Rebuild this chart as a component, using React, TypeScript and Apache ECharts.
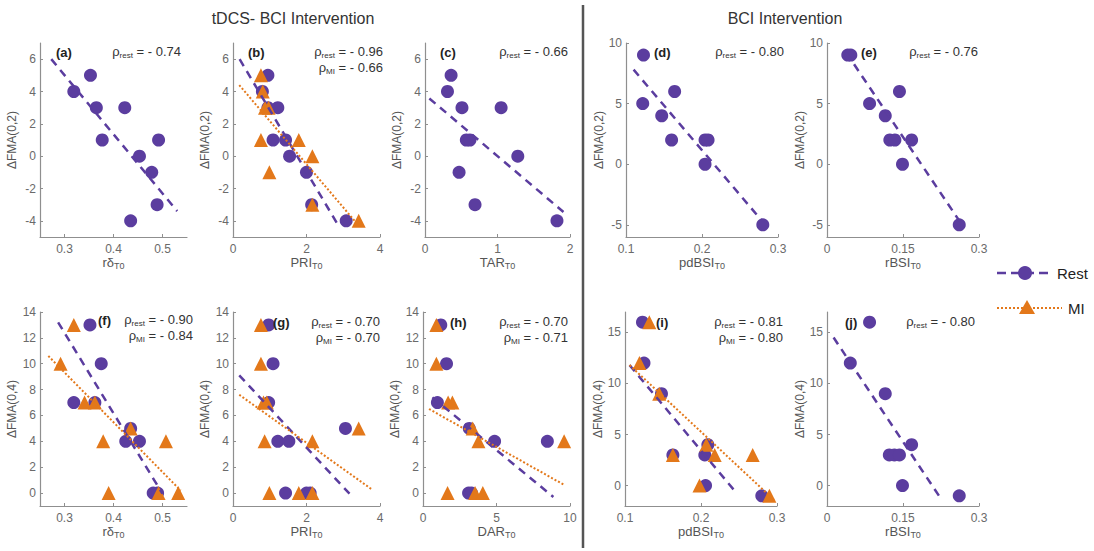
import React, { useEffect, useRef } from 'react';
import * as echarts from 'echarts';

// ---------- data ----------
const restA = [[0.319, 4], [0.353, 5], [0.365, 3], [0.377, 1], [0.423, 3], [0.492, 1], [0.453, 0], [0.478, -1], [0.489, -3], [0.435, -4]];
const fitRestA = [[0.273, 6.0], [0.53, -3.4]];

const restB = [[0.8, 4], [0.95, 3], [0.95, 5], [1.22, 3], [1.09, 1], [1.43, 1], [1.54, 0], [2.0, -1], [2.14, -3], [3.08, -4]];
const miB = [[0.76, 5], [0.81, 4], [0.87, 3], [0.97, 3], [0.76, 1], [1.79, 1], [2.16, 0], [0.99, -1], [2.16, -3], [3.42, -4]];
const fitRestB = [[0.18, 6.0], [2.87, -4.3]];
const fitMiB = [[0.17, 4.4], [3.31, -4.0]];

const restC = [[0.36, 5], [0.31, 4], [0.51, 3], [1.05, 3], [0.57, 1], [0.62, 1], [1.28, 0], [0.47, -1], [0.69, -3], [1.82, -4]];
const fitRestC = [[0.06, 3.57], [1.91, -3.45]];

const restD = [[0.123, 9], [0.122, 5], [0.164, 6], [0.147, 4], [0.16, 2], [0.204, 2], [0.208, 2], [0.204, 0], [0.28, -5]];
const fitRestD = [[0.11, 7.8], [0.278, -4.6]];

const restE = [[0.041, 9], [0.047, 9], [0.084, 5], [0.143, 6], [0.115, 4], [0.124, 2], [0.134, 2], [0.167, 2], [0.149, 0], [0.261, -5]];
const fitRestE = [[0.038, 9.2], [0.265, -4.9]];

const restF = [[0.352, 13], [0.375, 10], [0.319, 7], [0.362, 7], [0.425, 4], [0.453, 4], [0.481, 0], [0.49, 0], [0.435, 5]];
const miF = [[0.319, 13], [0.292, 10], [0.341, 7], [0.362, 7], [0.435, 5], [0.379, 4], [0.507, 4], [0.39, 0], [0.492, 0], [0.532, 0]];
const fitRestF = [[0.287, 13.2], [0.5, -0.05]];
const fitMiF = [[0.267, 10.6], [0.537, 0.2]];

const restG = [[0.97, 13], [1.09, 10], [0.97, 7], [1.22, 4], [1.52, 4], [3.06, 5], [1.43, 0], [2.0, 0], [2.1, 0]];
const miG = [[0.76, 13], [0.76, 10], [0.83, 7], [0.92, 7], [0.86, 4], [2.16, 4], [3.42, 5], [0.99, 0], [1.79, 0], [2.16, 0]];
const fitRestG = [[0.17, 9.1], [3.17, -0.05]];
const fitMiG = [[0.17, 7.6], [3.77, 0.3]];

const restH = [[1.21, 13], [1.6, 10], [0.98, 7], [3.15, 5], [4.87, 4], [8.46, 4], [3.1, 0], [3.3, 0]];
const miH = [[0.91, 13], [0.91, 10], [1.71, 7], [2.0, 7], [3.38, 5], [3.77, 4], [9.6, 4], [1.67, 0], [3.54, 0], [4.07, 0]];
const fitRestH = [[0.64, 7.4], [8.87, -0.3]];
const fitMiH = [[0.41, 6.5], [9.65, 0.6]];

const restI = [[0.123, 16], [0.125, 12], [0.148, 9], [0.163, 3], [0.205, 3], [0.209, 4], [0.206, 0], [0.28, -1]];
const miI = [[0.132, 16], [0.119, 12], [0.145, 9], [0.163, 3], [0.207, 4], [0.218, 3], [0.268, 3], [0.198, 0], [0.29, -1]];
const fitRestI = [[0.106, 11.8], [0.243, -0.4]];
const fitMiI = [[0.106, 11.8], [0.296, -1.4]];

const restJ = [[0.084, 16], [0.046, 12], [0.115, 9], [0.123, 3], [0.133, 3], [0.143, 3], [0.167, 4], [0.149, 0], [0.261, -1]];
const fitRestJ = [[0.013, 14.5], [0.221, -1.0]];

// tick labels
const ticksRdelta = [0.3, 0.4, 0.5];
const ticksPRI = [0, 2, 4];
const ticksTAR = [0, 1, 2];
const ticksPdBSI = [0.1, 0.2, 0.3];
const ticksRBSI = [0, 0.15, 0.3];
const ticksDAR = [0, 5, 10];
const ticksFma02a = [-4, -2, 0, 2, 4, 6];
const ticksFma02d = [-5, 0, 5, 10];
const ticksFma04f = [0, 2, 4, 6, 8, 10, 12, 14];
const ticksFma04i = [0, 5, 10, 15];

const rhoRest = ['- 0.74', '- 0.96', '- 0.66', '- 0.80', '- 0.76', '- 0.90', '- 0.70', '- 0.70', '- 0.81', '- 0.80'];
const rhoMI = [null, '- 0.66', null, null, null, '- 0.84', '- 0.70', '- 0.71', '- 0.80', null];
const panelLabels = ['(a)', '(b)', '(c)', '(d)', '(e)', '(f)', '(g)', '(h)', '(i)', '(j)'];

const titles = ['tDCS- BCI Intervention', 'BCI Intervention'];
const legendNames = ['Rest', 'MI'];

// ---------- styles / layout ----------
const PURPLE = '#5b3d9f';
const ORANGE = '#e3781a';
const FONT = 'Liberation Sans, Arial, sans-serif';
const TICK_COLOR = '#6a6a6a';
const AXIS_COLOR = '#8f8f8f';

const panels = [
  { left: 40, top: 43, w: 147, h: 194, xr: [0.25, 0.55], xt: ticksRdelta, yr: [-5, 7], yt: ticksFma02a, xn: 'rδ', yn: 'ΔFMA(0,2)', ynGap: 22, rest: restA, mi: null, fr: fitRestA, fm: null, lab: 56, rhoX: 181, rhoY: 52 },
  { left: 233, top: 43, w: 147, h: 194, xr: [0, 4], xt: ticksPRI, yr: [-5, 7], yt: ticksFma02a, xn: 'PRI', yn: 'ΔFMA(0,2)', ynGap: 22, rest: restB, mi: miB, fr: fitRestB, fm: fitMiB, lab: 248, rhoX: 383, rhoY: 52 },
  { left: 425, top: 43, w: 145, h: 194, xr: [0, 2], xt: ticksTAR, yr: [-5, 7], yt: ticksFma02a, xn: 'TAR', yn: 'ΔFMA(0,2)', ynGap: 22, rest: restC, mi: null, fr: fitRestC, fm: null, lab: 440, rhoX: 568, rhoY: 52 },
  { left: 626, top: 43, w: 152, h: 194, xr: [0.1, 0.3], xt: ticksPdBSI, yr: [-6, 10], yt: ticksFma02d, xn: 'pdBSI', yn: 'ΔFMA(0,2)', ynGap: 17, rest: restD, mi: null, fr: fitRestD, fm: null, lab: 654, rhoX: 784, rhoY: 52 },
  { left: 827, top: 43, w: 152, h: 194, xr: [0, 0.3], xt: ticksRBSI, yr: [-6, 10], yt: ticksFma02d, xn: 'rBSI', yn: 'ΔFMA(0,2)', ynGap: 16, rest: restE, mi: null, fr: fitRestE, fm: null, lab: 861, rhoX: 978, rhoY: 52 },
  { left: 40, top: 312, w: 147, h: 194, xr: [0.25, 0.55], xt: ticksRdelta, yr: [-1, 14], yt: ticksFma04f, xn: 'rδ', yn: 'ΔFMA(0,4)', ynGap: 22, rest: restF, mi: miF, fr: fitRestF, fm: fitMiF, lab: 98, rhoX: 193, rhoY: 320 },
  { left: 233, top: 312, w: 147, h: 194, xr: [0, 4], xt: ticksPRI, yr: [-1, 14], yt: ticksFma04f, xn: 'PRI', yn: 'ΔFMA(0,4)', ynGap: 22, rest: restG, mi: miG, fr: fitRestG, fm: fitMiG, lab: 273, rhoX: 380, rhoY: 322 },
  { left: 423, top: 312, w: 147, h: 194, xr: [0, 10], xt: ticksDAR, yr: [-1, 14], yt: ticksFma04f, xn: 'DAR', yn: 'ΔFMA(0,4)', ynGap: 22, rest: restH, mi: miH, fr: fitRestH, fm: fitMiH, lab: 450, rhoX: 568, rhoY: 322 },
  { left: 625, top: 312, w: 152, h: 194, xr: [0.1, 0.3], xt: ticksPdBSI, yr: [-2, 17], yt: ticksFma04i, xn: 'pdBSI', yn: 'ΔFMA(0,4)', ynGap: 17, rest: restI, mi: miI, fr: fitRestI, fm: fitMiI, lab: 656, rhoX: 783, rhoY: 322 },
  { left: 827, top: 312, w: 152, h: 194, xr: [0, 0.3], xt: ticksRBSI, yr: [-2, 17], yt: ticksFma04i, xn: 'rBSI', yn: 'ΔFMA(0,4)', ynGap: 16, rest: restJ, mi: null, fr: fitRestJ, fm: null, lab: 845, rhoX: 975, rhoY: 322 },
];

function buildOption() {
  const grid: any[] = [];
  const xAxis: any[] = [];
  const yAxis: any[] = [];
  const series: any[] = [];
  const graphic: any[] = [];

  panels.forEach((p, i) => {
    grid.push({ left: p.left, top: p.top, width: p.w, height: p.h, containLabel: false, outerBoundsMode: 'none' });
    xAxis.push({
      type: 'value', gridIndex: i, min: p.xr[0], max: p.xr[1],
      name: `{m|${p.xn}}{s|T0}`, nameLocation: 'middle', nameGap: 16,
      nameTextStyle: {
        rich: {
          m: { fontSize: 13, fontFamily: FONT, color: '#555', lineHeight: 15, verticalAlign: 'top' },
          s: { fontSize: 9, fontFamily: FONT, color: '#555', lineHeight: 9, verticalAlign: 'bottom' },
        },
        lineHeight: 20,
      },
      axisLine: { show: true, onZero: false, lineStyle: { color: AXIS_COLOR, width: 1.2 } },
      axisTick: { show: true, inside: true, length: 3, customValues: p.xt, lineStyle: { color: AXIS_COLOR } },
      axisLabel: { customValues: p.xt, margin: 6, fontSize: 12, fontFamily: FONT, color: TICK_COLOR },
      splitLine: { show: false },
    });
    yAxis.push({
      type: 'value', gridIndex: i, min: p.yr[0], max: p.yr[1],
      name: p.yn, nameLocation: 'middle', nameGap: p.ynGap, nameRotate: 90,
      nameTextStyle: { fontSize: 12, fontFamily: FONT, color: '#555' },
      axisLine: { show: true, onZero: false, lineStyle: { color: AXIS_COLOR, width: 1.2 } },
      axisTick: { show: true, inside: true, length: 3, customValues: p.yt, lineStyle: { color: AXIS_COLOR } },
      axisLabel: { customValues: p.yt, margin: 4, fontSize: 12, fontFamily: FONT, color: TICK_COLOR },
      splitLine: { show: false },
    });
    series.push({
      type: 'scatter', xAxisIndex: i, yAxisIndex: i, data: p.rest, symbol: 'circle', symbolSize: 13,
      itemStyle: { color: PURPLE, opacity: 1 }, z: 2,
    });
    if (p.mi) {
      series.push({
        type: 'scatter', xAxisIndex: i, yAxisIndex: i, data: p.mi, symbol: 'triangle', symbolSize: 14,
        itemStyle: { color: ORANGE, opacity: 1 }, z: 3,
      });
    }
    series.push({
      type: 'line', xAxisIndex: i, yAxisIndex: i, data: p.fr, symbol: 'none', z: 4,
      lineStyle: { color: PURPLE, width: 2.5, type: [8, 6] },
    });
    if (p.fm) {
      series.push({
        type: 'line', xAxisIndex: i, yAxisIndex: i, data: p.fm, symbol: 'none', z: 5,
        lineStyle: { color: ORANGE, width: 2, type: [2, 2] },
      });
    }
    graphic.push({
      type: 'text', x: p.lab, y: p.rhoY, z: 10,
      style: { text: panelLabels[i], font: `bold 13px ${FONT}`, fill: '#222', verticalAlign: 'middle', align: 'left' },
    });
    const rich = {
      r: { fontSize: 13, fontFamily: FONT, fill: '#333', color: '#333', lineHeight: 14, verticalAlign: 'top' },
      s: { fontSize: 8, fontFamily: FONT, fill: '#333', color: '#333', lineHeight: 8, verticalAlign: 'bottom' },
    };
    graphic.push({
      type: 'text', x: p.rhoX, y: p.rhoY, z: 10,
      style: { text: `{r|ρ}{s|rest}{r| = ${rhoRest[i]}}`, rich, align: 'right', verticalAlign: 'middle' },
    });
    if (rhoMI[i]) {
      graphic.push({
        type: 'text', x: p.rhoX, y: p.rhoY + 16, z: 10,
        style: { text: `{r|ρ}{s|MI}{r| = ${rhoMI[i]}}`, rich, align: 'right', verticalAlign: 'middle' },
      });
    }
  });

  // titles
  graphic.push({ type: 'text', x: 293, y: 18, style: { text: titles[0], font: `16px ${FONT}`, fill: '#333', align: 'center', verticalAlign: 'middle' } });
  graphic.push({ type: 'text', x: 785, y: 18, style: { text: titles[1], font: `16px ${FONT}`, fill: '#333', align: 'center', verticalAlign: 'middle' } });
  // separator
  graphic.push({ type: 'line', shape: { x1: 583, y1: 5, x2: 583, y2: 548 }, style: { stroke: '#555', lineWidth: 2.5 } });
  // legend
  graphic.push({ type: 'line', shape: { x1: 997, y1: 273, x2: 1050, y2: 273 }, style: { stroke: PURPLE, lineWidth: 2.5, lineDash: [9, 5] } });
  graphic.push({ type: 'circle', shape: { cx: 1025, cy: 273, r: 7 }, style: { fill: PURPLE } });
  graphic.push({ type: 'text', x: 1057, y: 273, style: { text: legendNames[0], font: `15px ${FONT}`, fill: '#222', verticalAlign: 'middle' } });
  graphic.push({ type: 'line', shape: { x1: 997, y1: 308, x2: 1062, y2: 308 }, style: { stroke: ORANGE, lineWidth: 2, lineDash: [2, 2] } });
  graphic.push({ type: 'polygon', shape: { points: [[1027, 300], [1019, 314], [1035, 314]] }, style: { fill: ORANGE } });
  graphic.push({ type: 'text', x: 1068, y: 308, style: { text: legendNames[1], font: `15px ${FONT}`, fill: '#222', verticalAlign: 'middle' } });

  return {
    animation: false,
    backgroundColor: '#ffffff',
    textStyle: { fontFamily: FONT },
    grid, xAxis, yAxis, series, graphic,
  };
}

export default function App() {
  const ref = useRef<HTMLDivElement>(null);
  useEffect(() => {
    if (!ref.current) return;
    const chart = echarts.init(ref.current, undefined, { renderer: 'svg' });
    chart.setOption(buildOption() as any);
    return () => chart.dispose();
  }, []);
  return <div ref={ref} style={{ position: 'fixed', left: 0, top: 0, width: 1094, height: 551 }} />;
}
